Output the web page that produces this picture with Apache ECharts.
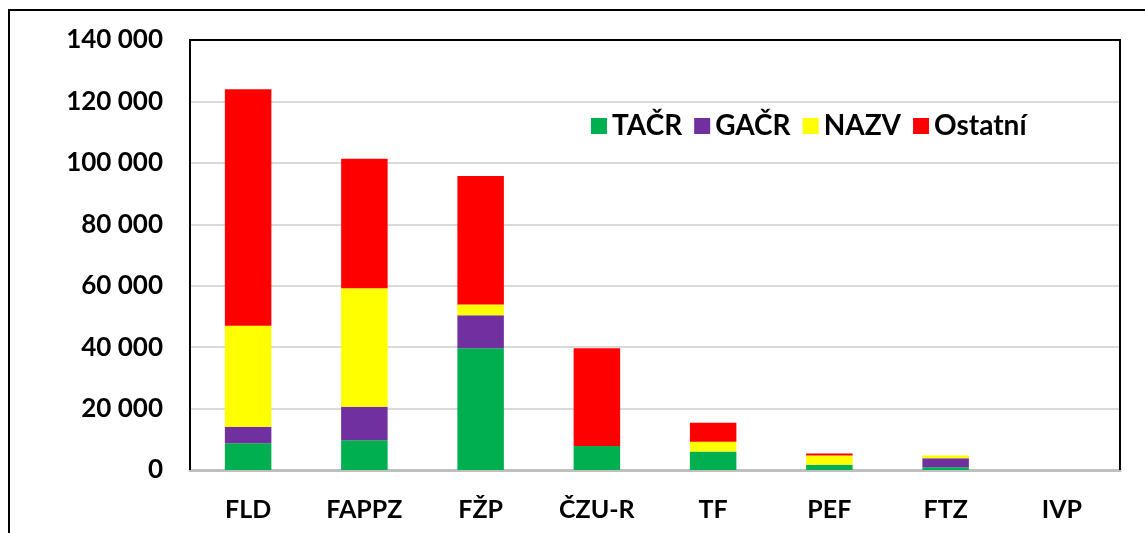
<!DOCTYPE html>
<html>
<head>
<meta charset="utf-8">
<script src="https://cdn.jsdelivr.net/npm/echarts@6/dist/echarts.min.js"></script>
<style>
  html, body { margin: 0; padding: 0; background: #fff; }
  #chart { width: 1145px; height: 533px; }
</style>
</head>
<body>
<div id="chart"></div>
<script>
// kategorie (fakulty)
const categories = ['FLD', 'FAPPZ', 'FŽP', 'ČZU-R', 'TF', 'PEF', 'FTZ', 'IVP']
const seriesNames = ['TAČR', 'GAČR', 'NAZV', 'Ostatní']
const tacr = [8700, 9700, 39600, 7800, 6000, 1700, 900, 0]
const gacr = [5400, 10900, 10800, 0, 0, 0, 2900, 0]
const nazv = [32900, 38600, 3500, 0, 3200, 3000, 900, 0]
const ostatni = [77000, 42100, 41800, 31800, 6200, 700, 0, 0]
const yTicks = [0, 20000, 40000, 60000, 80000, 100000, 120000, 140000]

const colors = ['#00b050', '#7030a0', '#ffff00', '#ff0000']
const font = 'Lato, "Open Sans", sans-serif'

const chart = echarts.init(document.getElementById('chart'))

const values = [tacr, gacr, nazv, ostatni]
const series = seriesNames.map((name, i) => ({
    name: name,
    type: 'bar',
    stack: 'total',
    barCategoryGap: '60%',
    itemStyle: { color: colors[i] },
    data: values[i]
}))

const option = {
    animation: false,
    graphic: [
        {
            // vnější rámeček
            type: 'rect',
            shape: { x: 9, y: 10, width: 1200, height: 600 },
            style: { fill: 'none', stroke: '#000', lineWidth: 2 },
            silent: true,
            z: 0
        },
        {
            // rámeček grafu (vlevo, nahoře, vpravo)
            type: 'polyline',
            shape: { points: [[190, 470], [190, 40], [1120, 40], [1120, 470]] },
            style: { fill: 'none', stroke: '#000', lineWidth: 2 },
            silent: true,
            z: 10
        }
    ],
    legend: {
        left: 586,
        top: 107,
        itemWidth: 16,
        itemHeight: 16,
        itemGap: 12,
        icon: 'rect',
        textStyle: { fontFamily: font, fontWeight: 'bold', fontSize: 28, color: '#000' },
        data: seriesNames
    },
    grid: {
        left: 190,
        right: 25,
        top: 40,
        bottom: 63,
        containLabel: false
    },
    xAxis: {
        type: 'category',
        data: categories,
        axisLine: { show: true, lineStyle: { color: '#bfbfbf', width: 3 } },
        axisTick: { show: false },
        axisLabel: {
            margin: 27,
            fontFamily: font,
            fontWeight: 'bold',
            fontSize: 25,
            color: '#000'
        }
    },
    yAxis: {
        type: 'value',
        min: yTicks[0],
        max: yTicks[yTicks.length - 1],
        interval: yTicks[1] - yTicks[0],
        axisLine: { show: false },
        axisTick: { show: false },
        splitLine: { lineStyle: { color: '#d9d9d9', width: 2 } },
        axisLabel: {
            margin: 27,
            fontFamily: font,
            fontWeight: 'bold',
            fontSize: 26,
            color: '#000',
            formatter: (v) => String(v).replace(/\B(?=(\d{3})+(?!\d))/g, ' ')
        }
    },
    series: series
}

chart.setOption(option)
</script>
</body>
</html>
